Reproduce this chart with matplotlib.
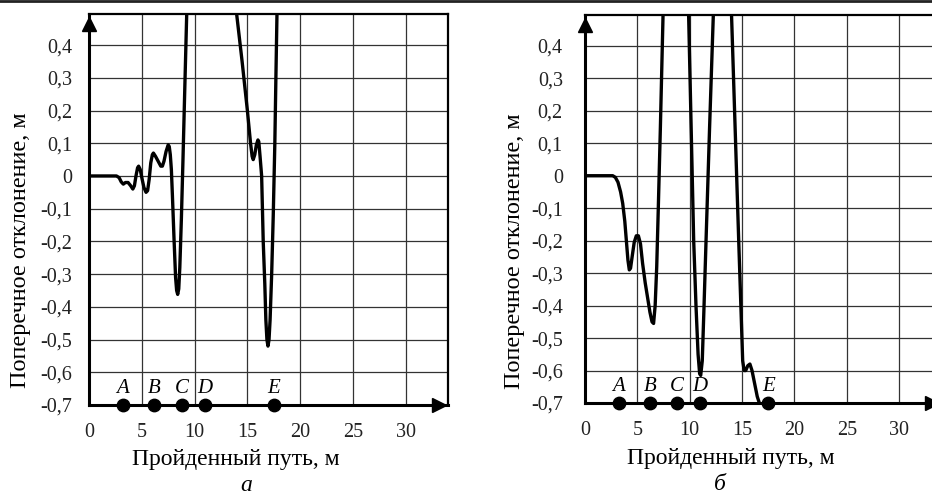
import matplotlib

matplotlib.use("Agg")
import matplotlib.pyplot as plt
from matplotlib.lines import Line2D
from matplotlib.ticker import FuncFormatter, MultipleLocator

# --- data ------------------------------------------------------------------
# (a) lateral deviation vs travelled distance
path_a = [0.0, 2.6, 2.85, 3.05, 3.25, 3.45, 3.7, 3.95, 4.15, 4.3, 4.45, 4.6,
          4.7, 4.85, 5.0, 5.2, 5.4, 5.55, 5.7, 5.85, 6.0, 6.1, 6.3, 6.55,
          6.8, 6.95, 7.1, 7.3, 7.5, 7.6, 7.7, 7.8, 7.9, 8.05, 8.2, 8.3, 8.4,
          8.5, 8.6, 8.75, 8.9, 9.05, 9.25, 9.4, 11.5, 13.5, 14.0, 14.5, 15.0,
          15.3, 15.45, 15.55, 15.7, 15.85, 16.0, 16.08, 16.2, 16.35, 16.5,
          16.65, 16.75, 16.85, 16.95, 17.05, 17.15, 17.3, 17.45, 17.6, 17.7,
          17.8, 17.9, 18.5]
dev_a = [0.0, 0.0, -0.005, -0.018, -0.025, -0.02, -0.02, -0.03, -0.04, -0.03,
         0.0, 0.025, 0.03, 0.02, -0.005, -0.035, -0.05, -0.045, -0.01, 0.04,
         0.065, 0.07, 0.06, 0.045, 0.03, 0.03, 0.045, 0.075, 0.095, 0.09,
         0.065, 0.02, -0.06, -0.19, -0.31, -0.35, -0.362, -0.345, -0.28,
         -0.13, 0.05, 0.24, 0.49, 0.7, 1.5, 0.65, 0.49, 0.35, 0.2, 0.1, 0.06,
         0.05, 0.065, 0.095, 0.11, 0.105, 0.06, 0.0, -0.2, -0.33, -0.44,
         -0.5, -0.52, -0.5, -0.44, -0.3, -0.12, 0.1, 0.3, 0.49, 0.7, 1.5]

# (b)
path_b = [0.0, 2.65, 2.9, 3.15, 3.4, 3.6, 3.8, 3.95, 4.1, 4.23, 4.35, 4.5,
          4.7, 4.9, 5.1, 5.3, 5.5, 5.75, 6.0, 6.2, 6.4, 6.55, 6.7, 6.85,
          7.0, 7.2, 7.45, 7.7, 8.8, 9.6, 9.9, 10.38, 10.6, 10.8, 10.95,
          11.05, 11.2, 11.35, 11.56, 11.9, 12.25, 12.5, 13.2, 13.7, 14.0,
          14.68, 15.06, 15.2, 15.35, 15.55, 15.75, 15.95, 16.2, 16.45, 16.65,
          16.8]
dev_b = [0.0, 0.0, -0.005, -0.02, -0.05, -0.085, -0.14, -0.2, -0.26, -0.29,
         -0.285, -0.25, -0.205, -0.185, -0.185, -0.21, -0.27, -0.33, -0.38,
         -0.42, -0.45, -0.455, -0.4, -0.28, -0.1, 0.15, 0.49, 0.8, 1.2, 0.8,
         0.49, -0.2, -0.4, -0.55, -0.61, -0.615, -0.57, -0.42, -0.2, 0.15,
         0.49, 0.8, 1.2, 0.8, 0.49, -0.2, -0.57, -0.6, -0.6, -0.585, -0.58,
         -0.6, -0.64, -0.68, -0.7, -0.75]

# control points along the route
point_names = ["A", "B", "C", "D", "E"]
point_pos = [3.2, 6.2, 8.8, 11.0, 17.5]

x_ticks = [0, 5, 10, 15, 20, 25, 30]
y_ticks = [-0.7, -0.6, -0.5, -0.4, -0.3, -0.2, -0.1, 0.0, 0.1, 0.2, 0.3, 0.4]

plt.rcParams["font.family"] = ["Liberation Serif", "DejaVu Serif"]

W, H = 932, 495
fig = plt.figure(figsize=(W / 100, H / 100), dpi=100)


def fmt_y(v, _):
    if abs(v) < 1e-9:
        return "0"
    return f"{v:.1f}".replace(".", ",")


def panel(rect, path, dev, letter, ypad, ylab_xy, xlab_xy, letter_xy):
    ax = fig.add_axes(rect)
    ax.plot(path, dev, color="black", lw=2.4, solid_capstyle="round",
            solid_joinstyle="round", zorder=3)
    ax.set_xlim(0, 34)
    ax.set_ylim(-0.7, 0.495)
    ax.xaxis.set_major_locator(MultipleLocator(5))
    ax.set_yticks(y_ticks)
    ax.set_xticks(x_ticks)
    ax.yaxis.set_major_formatter(FuncFormatter(fmt_y))
    ax.tick_params(length=0, labelsize=14.5, colors="#222222")
    ax.tick_params(axis="x", pad=13)
    ax.tick_params(axis="y", pad=ypad)
    ax.grid(True, color="#333333", lw=0.9)
    ax.set_axisbelow(True)
    for side in ("left", "bottom"):
        ax.spines[side].set_linewidth(2.2)
    for side in ("top", "right"):
        ax.spines[side].set_linewidth(1.6)

    # axis arrows
    ax.plot(0, 0.975, marker="^", ms=10, color="black",
            transform=ax.transAxes, clip_on=False, zorder=5)
    ax.plot(0.975, 0, marker=">", ms=10, color="black",
            transform=ax.transAxes, clip_on=False, zorder=5)

    ax.scatter(point_pos, [-0.7] * len(point_pos), s=80, color="black",
               clip_on=False, zorder=6)
    for name, p in zip(point_names, point_pos):
        ax.annotate(name, (p, -0.7), xytext=(0, 12), textcoords="offset points",
                    ha="center", va="center", fontsize=15, style="italic")

    ax.set_xlabel("Пройденный путь, м", fontsize=17)
    ax.set_ylabel("Поперечное отклонение, м", fontsize=17.5)
    ax.xaxis.set_label_coords(*xlab_xy)
    ax.yaxis.set_label_coords(*ylab_xy)
    ax.xaxis.label.set_va("center")
    ax.yaxis.label.set_va("center")
    ax.text(*letter_xy, letter, transform=ax.transAxes,
            fontsize=17, style="italic", ha="center", va="center")
    return ax


panel([89 / W, 90 / H, 359 / W, 391 / H], path_a, dev_a, "а", 12,
      (-0.192, 0.396), (0.41, -0.14), (0.437, -0.205))
panel([585 / W, 92 / H, 356 / W, 388 / H], path_b, dev_b, "б", 16,
      (-0.197, 0.392), (0.41, -0.142), (0.379, -0.21))

fig.add_artist(Line2D([0, 1], [0.998, 0.998], color="#222222", lw=2,
                      transform=fig.transFigure))

fig.savefig("out.png", dpi=100)
